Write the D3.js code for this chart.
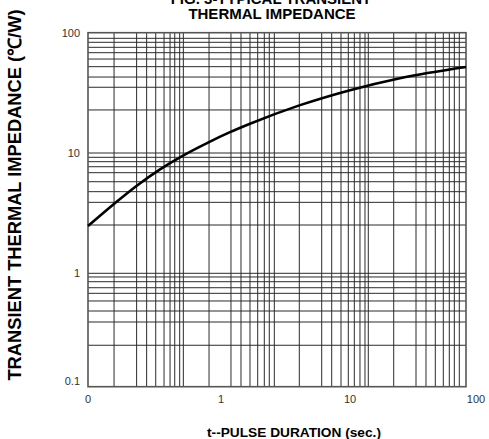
<!DOCTYPE html>
<html>
<head>
<meta charset="utf-8">
<script src="https://cdn.jsdelivr.net/npm/d3@7.9.0/dist/d3.min.js"></script>
<style>
  body { margin: 0; background: #fff; }
  svg { display: block; font-family: "Liberation Sans", Arial, sans-serif; }
</style>
</head>
<body>
<svg id="chart" width="489" height="439"></svg>
<script>
// pulse duration (sec.) and transient thermal impedance (C/W)
const pulseTimes = [0.1, 0.16, 0.234, 0.348, 0.518, 0.785, 1.174, 1.678, 4.1, 10, 24.9, 83.3];
const impedance = [2.47, 3.84, 5.37, 7.31, 9.52, 12.1, 14.9, 17.5, 25.0, 33.3, 41.9, 51.9];

// tick labels
const xTicks = [0.1, 1, 10, 100];
const xTickLabels = ['0', '1', '10', '100'];
const yTicks = [0.1, 1, 10, 100];
const yTickLabels = ['0.1', '1', '10', '100'];

// grid lines of the printed log paper (values in axis units)
const xGrid = [0.157, 0.232, 0.276, 0.323, 0.373, 0.414, 0.449, 0.489, 0.521, 0.813,
  1.195, 1.429, 1.678, 1.925, 2.166, 2.368, 2.59, 4.046, 6.034, 7.213, 8.516, 9.701,
  10.82, 12.0, 13.15, 13.97, 22.23, 33.41, 40.1, 47.53, 55.02, 61.4, 67.3, 73.7];
const yGrid = [0.232, 0.372, 0.465, 0.57, 0.666, 0.746, 0.843, 0.928, 1,
  2.52, 3.89, 4.77, 5.77, 6.86, 7.69, 8.47, 9.21, 10,
  22.8, 35.2, 42.8, 52.2, 60.4, 68.2, 75.6, 83.2, 89.8];

const plotLeft = 88, plotRight = 466, plotTop = 32.7, plotBottom = 386.7;

const svg = d3.select('#chart');

// the paper's decades are not quite even, so use piecewise log scales
let x = d3.scaleLog().domain(xTicks).range([plotLeft, 221, 350, 476]);
let y = d3.scaleLog().domain(yTicks).range([plotBottom, 273.3, 153, plotTop]);

svg.append('g')
    .selectAll('line')
    .data(xGrid)
    .join('line')
    .attr('x1', (d) => x(d))
    .attr('x2', (d) => x(d))
    .attr('y1', plotTop)
    .attr('y2', plotBottom)
    .attr('stroke', '#2b2b2b')
    .attr('stroke-width', 1);

svg.append('g')
    .selectAll('line')
    .data(yGrid)
    .join('line')
    .attr('x1', plotLeft)
    .attr('x2', plotRight)
    .attr('y1', (d) => y(d))
    .attr('y2', (d) => y(d))
    .attr('stroke', '#2b2b2b')
    .attr('stroke-width', 1);

svg.append('rect')
    .attr('x', plotLeft)
    .attr('y', plotTop)
    .attr('width', plotRight - plotLeft)
    .attr('height', plotBottom - plotTop)
    .attr('fill', 'none')
    .attr('stroke', '#555')
    .attr('stroke-width', 1.6);

let points = pulseTimes.map((t, i) => [t, impedance[i]]);
let line = d3.line()
    .x((d) => x(d[0]))
    .y((d) => y(d[1]))
    .curve(d3.curveMonotoneX);

svg.append('path')
    .attr('d', line(points))
    .attr('fill', 'none')
    .attr('stroke', '#000')
    .attr('stroke-width', 2.6);

// tick labels
svg.append('g')
    .selectAll('text')
    .data(xTicks)
    .join('text')
    .attr('x', (d) => x(d))
    .attr('y', 403)
    .attr('text-anchor', 'middle')
    .attr('font-size', 11)
    .attr('fill', '#333')
    .text((d, i) => xTickLabels[i]);

svg.append('g')
    .selectAll('text')
    .data(yTicks)
    .join('text')
    .attr('x', 80)
    .attr('y', (d) => Math.min(y(d), plotBottom - 6))
    .attr('dy', '0.35em')
    .attr('text-anchor', 'end')
    .attr('font-size', 11)
    .attr('fill', '#333')
    .text((d, i) => yTickLabels[i]);

// titles
svg.append('text')
    .attr('x', 271)
    .attr('y', 4)
    .attr('text-anchor', 'middle')
    .attr('font-size', 15)
    .attr('font-weight', 'bold')
    .text('FIG. 3-TYPICAL TRANSIENT');

svg.append('text')
    .attr('x', 272)
    .attr('y', 18.5)
    .attr('text-anchor', 'middle')
    .attr('font-size', 15)
    .attr('font-weight', 'bold')
    .text('THERMAL IMPEDANCE');

svg.append('text')
    .attr('x', 294)
    .attr('y', 436.5)
    .attr('text-anchor', 'middle')
    .attr('font-size', 13.7)
    .attr('font-weight', 'bold')
    .text('t--PULSE DURATION (sec.)');

svg.append('text')
    .attr('transform', 'translate(21,195) rotate(-90)')
    .attr('text-anchor', 'middle')
    .attr('font-size', 18.3)
    .attr('font-weight', 'bold')
    .text('TRANSIENT THERMAL IMPEDANCE (℃/W)');
</script>
</body>
</html>
